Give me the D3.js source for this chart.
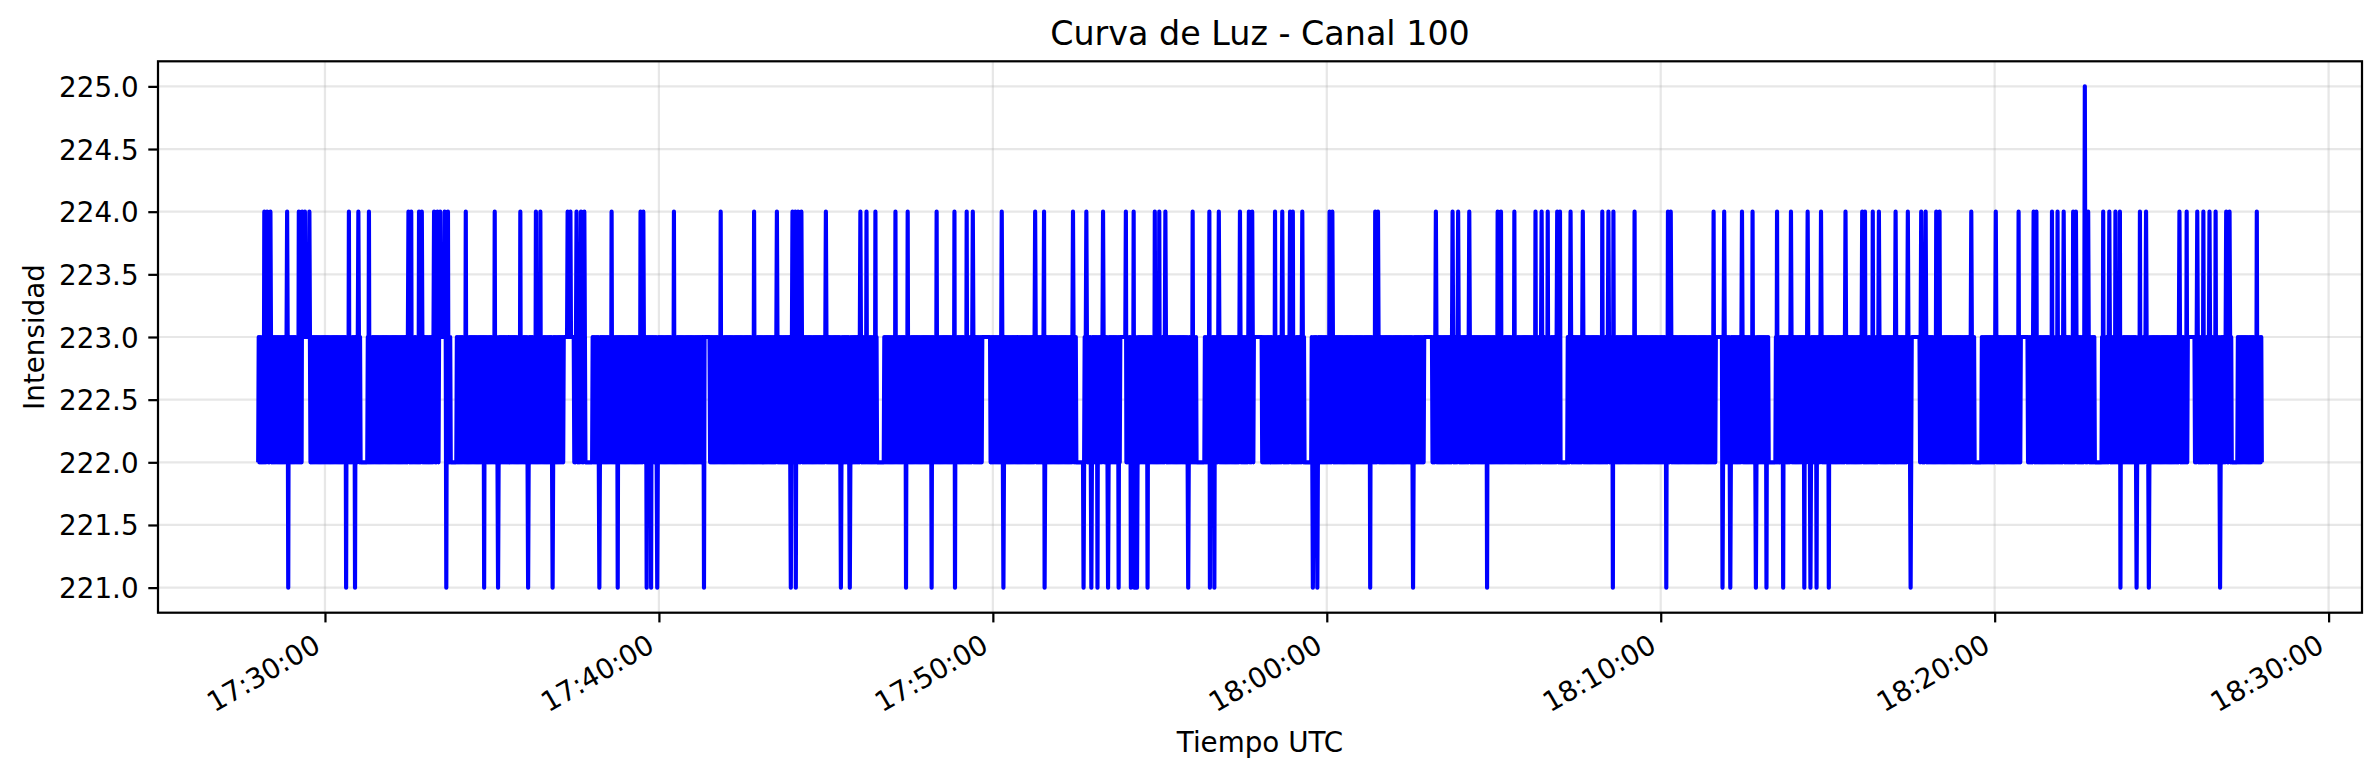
<!DOCTYPE html>
<html><head><meta charset="utf-8">
<script src="https://cdn.jsdelivr.net/npm/d3@7/dist/d3.min.js"></script>
<style>
html,body{margin:0;padding:0;background:#fff;}
svg{display:block;}
text{font-family:"DejaVu Sans",sans-serif;fill:#000;}
</style></head><body>
<svg id="chart" width="2380" height="778"></svg>
<script>
const chartTitle = "Curva de Luz - Canal 100";
const xLabel = "Tiempo UTC";
const yLabel = "Intensidad";
const dayPrefix = "2024-01-01T";
const seriesStart = "17:28:00";
const seriesEnd = "18:28:00";
const xDomain = ["17:25:00", "18:31:00"];
const xTickLabels = ["17:30:00", "17:40:00", "17:50:00", "18:00:00", "18:10:00", "18:20:00", "18:30:00"];
const yTicks = [221.0, 221.5, 222.0, 222.5, 223.0, 223.5, 224.0, 224.5, 225.0];
const yDomain = [220.8, 225.2];
// the signal flips between these two levels each sample (solid blue band)
const baseLevels = [222, 223];
// seconds after seriesStart where the reading jumps to 224
const spikes224 = [11, 16, 22, 52, 73, 79, 84, 92, 163, 180, 199, 270, 275, 289, 294, 316, 322, 327, 335, 341, 373, 425, 471, 499, 507, 556, 561, 572, 580, 586, 635, 687, 692, 747, 831, 891, 932, 960, 965, 970, 976, 1020, 1082, 1093, 1109, 1145, 1167, 1219, 1251, 1273, 1284, 1336, 1396, 1412, 1464, 1488, 1518, 1559, 1573, 1611, 1619, 1630, 1679, 1709, 1726, 1764, 1780, 1786, 1827, 1840, 1854, 1859, 1876, 1925, 1930, 2007, 2012, 2116, 2146, 2156, 2176, 2227, 2233, 2257, 2295, 2306, 2317, 2334, 2339, 2358, 2380, 2415, 2426, 2435, 2473, 2533, 2538, 2615, 2634, 2645, 2666, 2685, 2729, 2754, 2784, 2808, 2852, 2882, 2887, 2901, 2912, 2942, 2964, 2988, 2996, 3015, 3021, 3078, 3122, 3163, 3190, 3195, 3223, 3233, 3244, 3261, 3266, 3288, 3315, 3326, 3337, 3345, 3381, 3392, 3452, 3465, 3484, 3495, 3506, 3517, 3536, 3542, 3591];
// seconds after seriesStart where the reading drops to 221
const spikes221 = [54, 158, 174, 338, 406, 431, 485, 529, 613, 646, 698, 706, 717, 801, 957, 966, 1047, 1063, 1164, 1210, 1252, 1339, 1413, 1483, 1497, 1508, 1527, 1546, 1568, 1574, 1579, 1598, 1671, 1710, 1718, 1895, 1903, 1998, 2075, 2208, 2434, 2530, 2631, 2645, 2691, 2710, 2740, 2778, 2789, 2800, 2822, 2969, 3346, 3375, 3397, 3525];
const spikes225 = [3282];
// [from s, to s, level] stretches where the reading stays flat (white slits in the band)
const holds = [[80, 92, 223], [184, 196, 222], [326, 336, 223], [346, 356, 222], [550, 566, 223], [588, 600, 222],
  [798, 810, 223], [1112, 1124, 222], [1302, 1314, 223], [1470, 1481, 222], [1549, 1558, 223], [1687, 1699, 222],
  [1790, 1802, 223], [1880, 1892, 222], [2096, 2108, 223], [2341, 2352, 222], [2620, 2630, 223], [2715, 2726, 222],
  [2972, 2984, 223], [3084, 3096, 222], [3167, 3179, 223], [3300, 3311, 222], [3468, 3478, 223], [3546, 3556, 222]];

const W = 2380, H = 778;
const M = {left: 158, right: 18, top: 61.3, bottom: 165.3};
const PX = 200 / 72;
const svg = d3.select("#chart");
const parse = s => new Date(dayPrefix + s + "Z");

const t0 = parse(seriesStart), t1 = parse(seriesEnd);
const n = Math.round((t1 - t0) / 1000);
const vals = [];
for (let i = 0; i <= n; i++) vals.push(baseLevels[i % 2]);
holds.forEach(([a, b, v]) => { for (let i = a; i <= b; i++) vals[i] = v; });
spikes224.forEach(s => { vals[Math.round(s)] = 224; });
spikes221.forEach(s => { vals[Math.round(s)] = 221; });
spikes225.forEach(s => { vals[Math.round(s)] = 225; });
const data = vals.map((v, i) => ({t: new Date(+t0 + i * 1000), v}));

const x = d3.scaleUtc().domain(xDomain.map(parse)).range([M.left, W - M.right]);
const y = d3.scaleLinear().domain(yDomain).range([H - M.bottom, M.top]);

// grid
const grid = svg.append("g").attr("stroke", "#b0b0b0").attr("stroke-opacity", 0.3).attr("stroke-width", 0.8 * PX);
grid.selectAll("line.v").data(xTickLabels.map(parse)).join("line")
  .attr("x1", d => x(d)).attr("x2", d => x(d)).attr("y1", M.top).attr("y2", H - M.bottom);
grid.selectAll("line.h").data(yTicks).join("line")
  .attr("y1", d => y(d)).attr("y2", d => y(d)).attr("x1", M.left).attr("x2", W - M.right);

// series
const line = d3.line().x(d => x(d.t)).y(d => y(d.v));
svg.append("path").datum(data).attr("d", line)
  .attr("fill", "none").attr("stroke", "#0000ff").attr("stroke-width", 1.5 * PX)
  .attr("stroke-linejoin", "round").attr("stroke-linecap", "butt");

// axes
const tickLen = 3.5 * PX, pad = 3.5 * PX, fs = 10 * PX;
const xAxis = d3.axisBottom(x).tickValues(xTickLabels.map(parse)).tickFormat(d3.utcFormat("%H:%M:%S"))
  .tickSize(tickLen).tickSizeOuter(0);
const gx = svg.append("g").attr("transform", `translate(0,${H - M.bottom})`).call(xAxis);
gx.select(".domain").remove();
gx.selectAll(".tick line").attr("stroke", "#000").attr("stroke-width", 0.8 * PX);
gx.selectAll(".tick text").attr("x", 0).attr("y", 0).attr("dy", null)
  .attr("font-size", fs).attr("font-family", "DejaVu Sans").attr("text-anchor", "end")
  .attr("transform", `translate(${-0.236 * fs * 0.5},${tickLen + pad + 0.76 * fs * 0.866}) rotate(-30)`);

const yAxis = d3.axisLeft(y).tickValues(yTicks).tickFormat(d3.format(".1f")).tickSize(tickLen).tickPadding(pad).tickSizeOuter(0);
const gy = svg.append("g").attr("transform", `translate(${M.left},0)`).call(yAxis);
gy.select(".domain").remove();
gy.selectAll(".tick line").attr("stroke", "#000").attr("stroke-width", 0.8 * PX);
gy.selectAll(".tick text").attr("font-size", fs).attr("font-family", "DejaVu Sans").attr("dy", "0.36em");

// spines
svg.append("rect").attr("x", M.left).attr("y", M.top)
  .attr("width", W - M.left - M.right).attr("height", H - M.top - M.bottom)
  .attr("fill", "none").attr("stroke", "#000").attr("stroke-width", 0.8 * PX);

// labels
svg.append("text").attr("x", (M.left + W - M.right) / 2).attr("y", 44.6)
  .attr("text-anchor", "middle").attr("font-size", 12 * PX).text(chartTitle);
svg.append("text").attr("x", (M.left + W - M.right) / 2).attr("y", 751.7)
  .attr("text-anchor", "middle").attr("font-size", fs).text(xLabel);
svg.append("text").attr("transform", `translate(44.3,${(M.top + H - M.bottom) / 2}) rotate(-90)`)
  .attr("text-anchor", "middle").attr("font-size", fs).text(yLabel);
</script>
</body></html>
